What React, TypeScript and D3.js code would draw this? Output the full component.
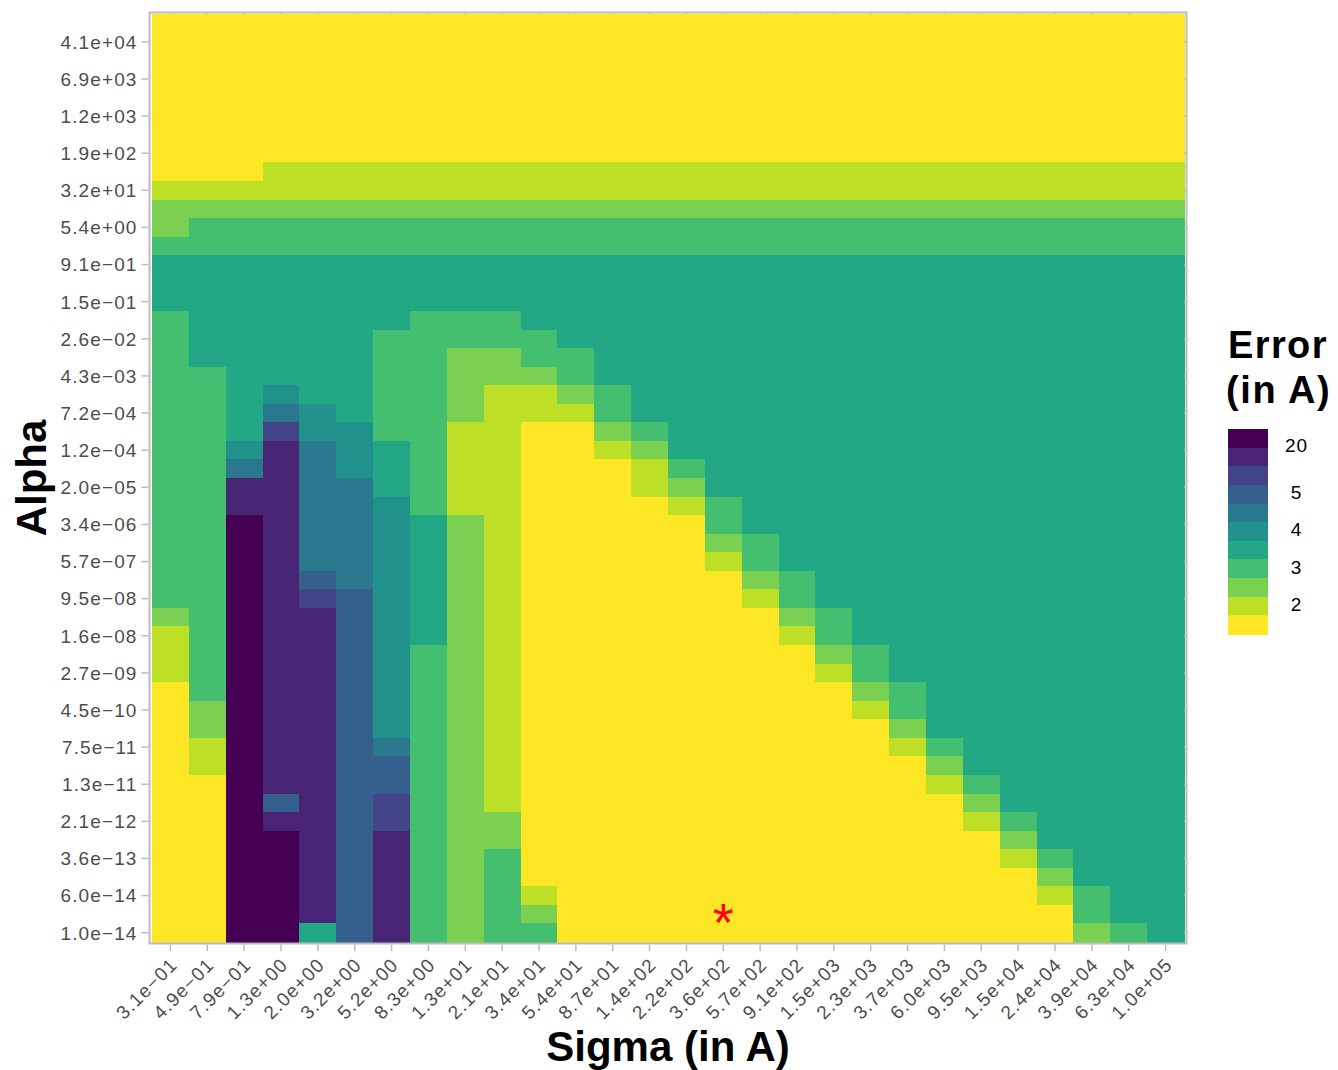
import React from "react";
import * as d3 from "d3";

// ---------- data ----------
const M = "\u2212";
const sigmaLabels = [
  `3.1e${M}01`, `4.9e${M}01`, `7.9e${M}01`, "1.3e+00", "2.0e+00", "3.2e+00", "5.2e+00",
  "8.3e+00", "1.3e+01", "2.1e+01", "3.4e+01", "5.4e+01", "8.7e+01", "1.4e+02",
  "2.2e+02", "3.6e+02", "5.7e+02", "9.1e+02", "1.5e+03", "2.3e+03", "3.7e+03",
  "6.0e+03", "9.5e+03", "1.5e+04", "2.4e+04", "3.9e+04", "6.3e+04", "1.0e+05",
];

// alpha tick labels, bottom to top; one label on every second alpha row
const alphaTickLabels = [
  `1.0e${M}14`, `6.0e${M}14`, `3.6e${M}13`, `2.1e${M}12`, `1.3e${M}11`, `7.5e${M}11`,
  `4.5e${M}10`, `2.7e${M}09`, `1.6e${M}08`, `9.5e${M}08`, `5.7e${M}07`, `3.4e${M}06`,
  `2.0e${M}05`, `1.2e${M}04`, `7.2e${M}04`, `4.3e${M}03`, `2.6e${M}02`, `1.5e${M}01`,
  `9.1e${M}01`, "5.4e+00", "3.2e+01", "1.9e+02", "1.2e+03", "6.9e+03", "4.1e+04",
];
const alphaRowCount = 50;

// error band of each cell (0 = lowest error ... a = highest), rows from top alpha (row 49) to bottom (row 0)
const errorBands = [
  "0000000000000000000000000000", // 49
  "0000000000000000000000000000",
  "0000000000000000000000000000",
  "0000000000000000000000000000",
  "0000000000000000000000000000",
  "0000000000000000000000000000",
  "0000000000000000000000000000",
  "0000000000000000000000000000", // 42
  "0001111111111111111111111111", // 41
  "1111111111111111111111111111", // 40
  "2222222222222222222222222222", // 39
  "2333333333333333333333333333", // 38
  "3333333333333333333333333333", // 37
  "4444444444444444444444444444", // 36
  "4444444444444444444444444444", // 35
  "4444444444444444444444444444", // 34
  "3444444333444444444444444444", // 33
  "3444443333344444444444444444", // 32
  "3444443322334444444444444444", // 31
  "3344443322234444444444444444", // 30
  "3345443321123444444444444444", // 29
  "3346543321113444444444444444", // 28
  "3348553311002344444444444444", // 27
  "3359654311001244444444444444", // 26
  "3369654311000134444444444444", // 25
  "3399664311000124444444444444", // 24
  "3399665311000013444444444444", // 23
  "33a9665421000003444444444444", // 22
  "33a9665421000002344444444444", // 21
  "33a9665421000001344444444444", // 20
  "33a9765421000000234444444444", // 19
  "33a9875421000000134444444444", // 18
  "23a9975421000000023444444444", // 17
  "13a9975421000000013444444444", // 16
  "13a9975321000000002344444444", // 15
  "13a9975321000000001344444444", // 14
  "03a9975321000000000234444444", // 13
  "02a9975321000000000134444444", // 12
  "02a9975321000000000024444444", // 11
  "01a9976321000000000013444444", // 10
  "01a9977321000000000002444444", // 9
  "00a9977321000000000001344444", // 8
  "00a7978321000000000000244444", // 7
  "00a9978322000000000000134444", // 6
  "00aa979322000000000000024444", // 5
  "00aa979323000000000000013444", // 4
  "00aa979323000000000000002444", // 3
  "00aa979323100000000000001344", // 2
  "00aa979323200000000000000344", // 1
  "00aa479323300000000000000234", // 0
];

const bandColors = [
  "#fde725", "#bddf26", "#7ad151", "#44bf70", "#22a884", "#21918c",
  "#2a788e", "#355f8d", "#414487", "#482475", "#440154",
];
const legendLabels = ["20", "5", "4", "3", "2"];
const legendLabelSlots = [0.86, 3.4, 5.4, 7.4, 9.4]; // in swatch units from the top

const bestSigmaIndex = 15;
const bestAlphaRow = 1;

// ---------- layout ----------
const W = 1338;
const H = 1070;
const plot = { left: 152, right: 1184, top: 14, bottom: 942 };
const tickFont = "'Liberation Sans', Arial, Helvetica, sans-serif";
const tickColor = "#4d4d4d";
const frameColor = "#bcbcbc";
const tickSize = 19;
const tickSpacing = 1.1;

export default function App() {
  const cols = d3.range(sigmaLabels.length);
  const rows = d3.range(alphaRowCount);
  const x = d3.scaleBand<number>().domain(cols).range([plot.left, plot.right]).padding(0);
  const y = d3.scaleBand<number>().domain(rows).range([plot.bottom, plot.top]).padding(0);
  const color = d3.scaleOrdinal<number, string>().domain(d3.range(bandColors.length)).range(bandColors);

  const cells: { c: number; r: number; b: number }[] = [];
  errorBands.forEach((line, i) => {
    const r = alphaRowCount - 1 - i;
    line.split("").forEach((ch, c) => cells.push({ c, r, b: parseInt(ch, 11) }));
  });

  const legendBand = d3
    .scaleBand<number>()
    .domain(d3.range(bandColors.length))
    .range([429, 634]);
  const legendPos = d3.scaleLinear().domain([0, bandColors.length]).range([429, 634]);

  const bw = x.bandwidth();
  const bh = y.bandwidth();

  return (
    <svg
      width={W}
      height={H}
      style={{ position: "absolute", left: 0, top: 0, background: "#fff" }}
      fontFamily={tickFont}
    >
      <rect x={0} y={0} width={W} height={H} fill="#fff" />
      {/* heat cells */}
      <g shapeRendering="crispEdges">
        {cells.map((d) => (
          <rect
            key={`${d.c}-${d.r}`}
            x={x(d.c)!}
            y={y(d.r)!}
            width={bw + 0.6}
            height={bh + 0.6}
            fill={color(d.b)}
          />
        ))}
      </g>

      {/* frame */}
      <rect
        x={plot.left - 2.5}
        y={plot.top - 1.5}
        width={plot.right - plot.left + 5}
        height={plot.bottom - plot.top + 3}
        fill="none"
        stroke={frameColor}
        strokeWidth={2}
      />

      {/* y ticks */}
      {alphaTickLabels.map((lab, i) => {
        const cy = y(i * 2)! + bh / 2;
        return (
          <g key={lab}>
            <line x1={141.5} x2={148.5} y1={cy} y2={cy} stroke={frameColor} strokeWidth={1.5} />
            <line x1={1184} x2={1186} y1={cy} y2={cy} stroke={frameColor} strokeWidth={1.5} />
            <text
              x={137.5}
              y={cy}
              dy="0.36em"
              textAnchor="end"
              fontSize={tickSize}
              letterSpacing={tickSpacing}
              fill={tickColor}
            >
              {lab}
            </text>
          </g>
        );
      })}

      {/* x ticks */}
      {sigmaLabels.map((lab, c) => {
        const cx = x(c)! + bw / 2;
        return (
          <g key={lab + c}>
            <line x1={cx} x2={cx} y1={944.5} y2={951} stroke={frameColor} strokeWidth={1.5} />
            <line x1={cx} x2={cx} y1={12} y2={14} stroke={frameColor} strokeWidth={1.5} />
            <text
              transform={`translate(${cx + 8},${966}) rotate(-45)`}
              textAnchor="end"
              fontSize={tickSize}
              letterSpacing={tickSpacing}
              fill={tickColor}
            >
              {lab}
            </text>
          </g>
        );
      })}

      {/* best point */}
      <text
        x={x(bestSigmaIndex)! + bw / 2}
        y={y(bestAlphaRow)! + bh / 2}
        dy="0.49em"
        textAnchor="middle"
        fontSize={54}
        fill="#ff0000"
      >
        *
      </text>

      {/* axis titles */}
      <text
        x={(plot.left + plot.right) / 2}
        y={1061}
        textAnchor="middle"
        fontSize={42}
        fontWeight="bold"
        fill="#000"
      >
        Sigma (in A)
      </text>
      <text
        transform={`translate(46,${(plot.top + plot.bottom) / 2}) rotate(-90)`}
        textAnchor="middle"
        fontSize={42}
        fontWeight="bold"
        fill="#000"
      >
        Alpha
      </text>

      {/* legend */}
      <text x={1228} y={358} fontSize={38} fontWeight="bold" letterSpacing={1.4} fill="#000">
        Error
      </text>
      <text x={1226} y={403} fontSize={38} fontWeight="bold" letterSpacing={1.6} fill="#000">
        (in A)
      </text>
      <g shapeRendering="crispEdges">
        {d3.range(bandColors.length).map((k) => (
          <rect
            key={k}
            x={1227.5}
            y={legendBand(k)!}
            width={40.5}
            height={legendBand.bandwidth() + 0.5}
            fill={color(bandColors.length - 1 - k)}
          />
        ))}
      </g>
      {legendLabels.map((lab, i) => (
        <text
          key={lab}
          x={1296.5}
          y={legendPos(legendLabelSlots[i])}
          dy="0.36em"
          textAnchor="middle"
          fontSize={19}
          letterSpacing={1}
          fill="#000"
        >
          {lab}
        </text>
      ))}
    </svg>
  );
}
